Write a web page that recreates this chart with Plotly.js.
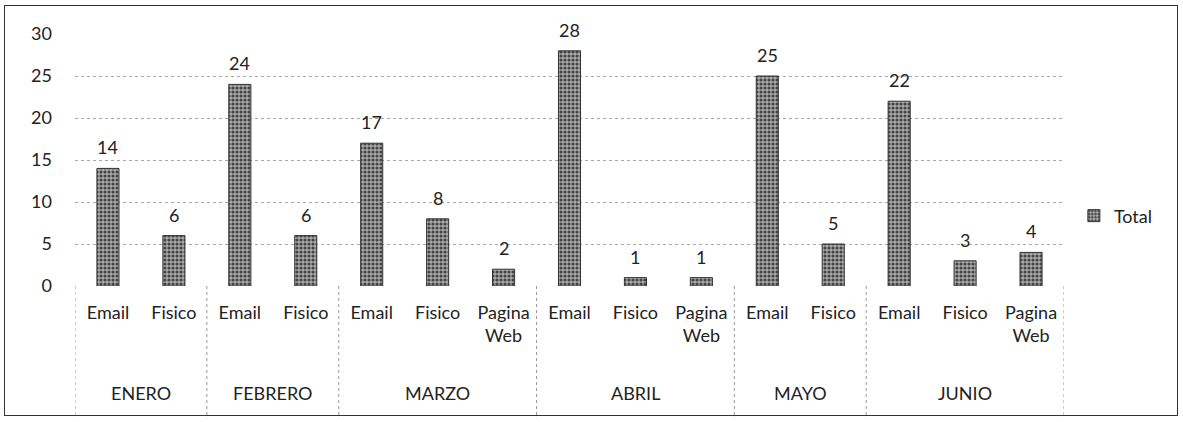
<!DOCTYPE html>
<html>
<head>
<meta charset="utf-8">
<script src="https://cdn.plot.ly/plotly-3.0.1.min.js"></script>
<style>
  html, body { margin: 0; padding: 0; background: #fff; }
  #wrap { position: relative; width: 1183px; height: 422px; }
  #chart { width: 1183px; height: 422px; }
  #frame { position: absolute; left: 4px; top: 5px; width: 1172px; height: 409px;
           border: 1.5px solid #333; pointer-events: none; }
</style>
</head>
<body>
<div id="wrap"><div id="chart"></div><div id="frame"></div></div>
<script>
// ---- data ----
const months = ['ENERO', 'FEBRERO', 'MARZO', 'ABRIL', 'MAYO', 'JUNIO'];
const channels = [
  ['Email', 'Fisico'],
  ['Email', 'Fisico'],
  ['Email', 'Fisico', 'Pagina Web'],
  ['Email', 'Fisico', 'Pagina Web'],
  ['Email', 'Fisico'],
  ['Email', 'Fisico', 'Pagina Web']
];
const totals = [
  [14, 6],
  [24, 6],
  [17, 8, 2],
  [28, 1, 1],
  [25, 5],
  [22, 3, 4]
];
const seriesName = 'Total';
const yTicks = [0, 5, 10, 15, 20, 25, 30];

// ---- build flat arrays ----
const FONT = 'Lato, Carlito, "Liberation Sans", sans-serif';
const xs = [], ys = [], labels = [];
const monthCenters = [], boundaries = [-0.5];
let idx = 0;
months.forEach((m, i) => {
  const start = idx;
  channels[i].forEach((c, j) => {
    xs.push(idx);
    ys.push(totals[i][j]);
    labels.push(c.replace(' ', '<br>'));
    idx++;
  });
  monthCenters.push((start + idx - 1) / 2);
  boundaries.push(idx - 0.5);
});

const trace = {
  type: 'bar',
  name: seriesName,
  x: xs,
  y: ys,
  marker: {
    color: '#a0a0a0',
    line: { color: '#333', width: 1 },
    pattern: { shape: '.', fgcolor: '#444', bgcolor: '#ababab', size: 4, solidity: 0.5 }
  },
  hoverinfo: 'none',
  showlegend: true
};

const annotations = [];
xs.forEach((x, k) => {
  annotations.push({
    x: x, y: ys[k], xref: 'x', yref: 'y',
    text: String(ys[k]), showarrow: false,
    yanchor: 'bottom', yshift: 8,
    font: { family: FONT, size: 18, color: '#222' }
  });
});
months.forEach((m, i) => {
  annotations.push({
    x: monthCenters[i], y: -0.425, xref: 'x', yref: 'paper',
    text: m, showarrow: false, yanchor: 'middle',
    font: { family: FONT, size: 18, color: '#222' }
  });
});

const shapes = boundaries.map(b => ({
  type: 'line', xref: 'x', yref: 'paper',
  x0: b, x1: b, y0: 0, y1: -0.525,
  line: { color: '#999', width: 1, dash: 'dot' }
}));

const layout = {
  width: 1183, height: 422,
  margin: { l: 75, r: 119, t: 34, b: 136 },
  paper_bgcolor: '#fff', plot_bgcolor: '#fff',
  font: { family: FONT, size: 18, color: '#222' },
  bargap: 0.665,
  showlegend: true,
  legend: {
    x: 1.01, y: 0.278, xanchor: 'left', yanchor: 'middle',
    font: { family: FONT, size: 18, color: '#222' },
    itemwidth: 30, bgcolor: 'rgba(0,0,0,0)'
  },
  xaxis: {
    range: [-0.5, xs.length - 0.5],
    tickmode: 'array', tickvals: xs, ticktext: labels,
    ticks: '', showgrid: false, zeroline: false, showline: false,
    ticklabelstandoff: 14,
    tickfont: { family: FONT, size: 18, color: '#222' },
    fixedrange: true
  },
  yaxis: {
    range: [0, 30],
    tickmode: 'array', tickvals: yTicks,
    ticks: '', showgrid: true, gridcolor: '#a8a8a8', griddash: 'dot', gridwidth: 1,
    zeroline: false, showline: false,
    ticklabelstandoff: 22,
    tickfont: { family: FONT, size: 18, color: '#222' },
    fixedrange: true
  },
  annotations: annotations,
  shapes: shapes
};

Plotly.newPlot('chart', [trace], layout, { displayModeBar: false, staticPlot: true });
</script>
</body>
</html>
